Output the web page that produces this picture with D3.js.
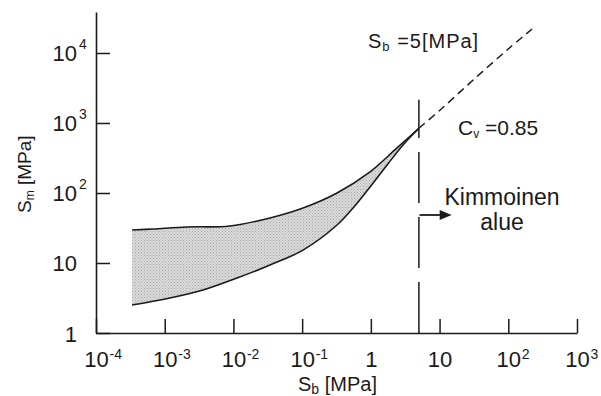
<!DOCTYPE html>
<html>
<head>
<meta charset="utf-8">
<script src="https://cdn.jsdelivr.net/npm/d3@7"></script>
<style>
body{margin:0;background:#fff}
text{font-family:"Liberation Sans",Arial,sans-serif;fill:#1a1a1a}
</style>
</head>
<body>
<svg id="chart"></svg>
<script>
//tick values and labels
var xTicks=[1e-4,1e-3,1e-2,1e-1,1,10,100,1000]
var xTickBase=["10","10","10","10","1","10","10","10"]
var xTickSup=["-4","-3","-2","-1","","","2","3"]
var yTicks=[1,10,100,1000,10000]
var yTickBase=["1","10","10","10","10"]
var yTickSup=["","","2","3","4"]

//upper and lower edge of the shaded band (Sb, Sm)
var upperSb=[3.35e-4,6.76e-4,2.11e-3,8.9e-3,0.0341,0.103,0.322,0.973,2.40,5]
var upperSm=[29.6,30.6,32.7,33.8,44,61,100,200,440,840]
var lowerSb=[3.35e-4,1.19e-3,3.6e-3,0.01127,0.0341,0.103,0.322,0.551,0.973,1.72,2.94,5]
var lowerSm=[2.51,3.16,4.11,6.1,9.36,15.3,34.9,61,122,251,485,840]

//dashed continuation
var extSb=[5,10.2,30.8,96,222]
var extSm=[840,1535,4110,11040,22000]

//limit line Sb=5 and arrow
var limitSb=5
var limitTop=2140
var arrowSb=[5.1,15]
var arrowSm=48.5

var screen={width:601,height:396}
var margins={left:96,right:24,top:12,bottom:63}
var graph={
    width:screen.width-margins.left-margins.right,
    height:screen.height-margins.top-margins.bottom
}

var svg=d3.select("#chart")
    .attr("width",screen.width)
    .attr("height",screen.height)

var xScale=d3.scaleLog()
    .domain([1e-4,1e3])
    .range([margins.left,margins.left+graph.width])
var yScale=d3.scaleLog()
    .domain([1,38500])
    .range([margins.top+graph.height,margins.top])

var zip=function(a,b){
    return a.map(function(d,i){return [d,b[i]]})
}
var upper=zip(upperSb,upperSm)
var lower=zip(lowerSb,lowerSm)
var ext=zip(extSb,extSm)

var lineGenerator=d3.line()
    .x(function(d){return xScale(d[0])})
    .y(function(d){return yScale(d[1])})
    .curve(d3.curveCatmullRom)

//stipple for the band
var pat=svg.append("defs").append("pattern")
    .attr("id","stipple")
    .attr("width",3)
    .attr("height",3)
    .attr("patternUnits","userSpaceOnUse")
pat.append("rect").attr("width",3).attr("height",3).attr("fill","#dadada")
pat.append("rect").attr("width",1).attr("height",1).attr("fill","#a8a8a8")
pat.append("rect").attr("x",1.5).attr("y",1.5).attr("width",1).attr("height",1).attr("fill","#b4b4b4")

//shaded band
var bandPath=lineGenerator(upper)+"L"+lineGenerator(lower.slice().reverse()).slice(1)+"Z"
svg.append("path")
    .attr("d",bandPath)
    .attr("fill","url(#stipple)")
    .attr("stroke","none")

svg.append("path")
    .datum(upper)
    .attr("d",lineGenerator)
    .attr("fill","none")
    .attr("stroke","#1a1a1a")
    .attr("stroke-width",1.6)
svg.append("path")
    .datum(lower)
    .attr("d",lineGenerator)
    .attr("fill","none")
    .attr("stroke","#1a1a1a")
    .attr("stroke-width",1.6)

//dashed extension
svg.append("path")
    .datum(ext)
    .attr("d",lineGenerator)
    .attr("fill","none")
    .attr("stroke","#1a1a1a")
    .attr("stroke-width",1.5)
    .attr("stroke-dasharray","8,5")

//vertical limit line
svg.append("line")
    .attr("x1",xScale(limitSb))
    .attr("x2",xScale(limitSb))
    .attr("y1",yScale(1))
    .attr("y2",yScale(limitTop))
    .attr("stroke","#1a1a1a")
    .attr("stroke-width",1.5)
    .attr("stroke-dasharray","51,14")

//arrow
var ax1=xScale(arrowSb[0]),ax2=xScale(arrowSb[1]),ay=yScale(arrowSm)
svg.append("line")
    .attr("x1",ax1)
    .attr("x2",ax2-8)
    .attr("y1",ay)
    .attr("y2",ay)
    .attr("stroke","#1a1a1a")
    .attr("stroke-width",1.8)
svg.append("path")
    .attr("d","M"+(ax2-12)+","+(ay-5)+"L"+ax2+","+ay+"L"+(ax2-12)+","+(ay+5)+"Z")
    .attr("fill","#1a1a1a")

//axes
var xAxis=d3.axisBottom(xScale)
    .tickValues(xTicks)
    .tickSize(-14)
    .tickSizeOuter(0)
    .tickFormat("")
var yAxis=d3.axisLeft(yScale)
    .tickValues(yTicks)
    .tickSize(-14)
    .tickSizeOuter(0)
    .tickFormat("")

var gx=svg.append("g")
    .attr("transform","translate(0,"+(margins.top+graph.height)+")")
    .call(xAxis)
var gy=svg.append("g")
    .attr("transform","translate("+margins.left+",0)")
    .call(yAxis)

gx.select(".domain").attr("stroke","#1a1a1a").attr("stroke-width",1.6)
gy.select(".domain").attr("stroke","#1a1a1a").attr("stroke-width",1.6)
gx.selectAll(".tick line").attr("stroke","#1a1a1a").attr("stroke-width",1.5)
gy.selectAll(".tick line").attr("stroke","#1a1a1a").attr("stroke-width",1.5)

//tick labels with superscripts
gx.selectAll(".tick").each(function(d,i){
    var g=d3.select(this)
    var hasSup=xTickSup[i]!==""
    g.append("text")
        .text(xTickBase[i])
        .attr("text-anchor","middle")
        .attr("x",0)
        .attr("y",34)
        .style("font-size","22px")
    if(hasSup){
        g.append("text")
            .text(xTickSup[i])
            .attr("text-anchor","start")
            .attr("x",13)
            .attr("y",26)
            .style("font-size","14px")
    }
})
gy.selectAll(".tick").each(function(d,i){
    var g=d3.select(this)
    g.append("text")
        .text(yTickBase[i])
        .attr("text-anchor","end")
        .attr("x",-19)
        .attr("y",8)
        .style("font-size","22px")
    if(yTickSup[i]!==""){
        g.append("text")
            .text(yTickSup[i])
            .attr("text-anchor","start")
            .attr("x",-17)
            .attr("y",-4)
            .style("font-size","14px")
    }
})

//labels
var labels=svg.append("g")
var xl=labels.append("text")
    .attr("x",298)
    .attr("y",391)
    .style("font-size","20px")
xl.append("tspan").text("S")
xl.append("tspan").text("b").attr("dy",3).style("font-size","14px")
xl.append("tspan").text(" [MPa]").attr("dy",-3)

var yl=labels.append("text")
    .attr("transform","translate(31,213) rotate(-90)")
    .style("font-size","19px")
yl.append("tspan").text("S")
yl.append("tspan").text("m").attr("dy",3).style("font-size","12px")
yl.append("tspan").text(" [MPa]").attr("dy",-3)

var sb=labels.append("text")
    .attr("x",368)
    .attr("y",48)
    .style("font-size","20px")
    .style("letter-spacing","1px")
sb.append("tspan").text("S")
sb.append("tspan").text("b").attr("dy",3).style("font-size","13px")
sb.append("tspan").text("  =5[MPa]").attr("dy",-3)

var cv=labels.append("text")
    .attr("x",458)
    .attr("y",135)
    .style("font-size","21px")
cv.append("tspan").text("C")
cv.append("tspan").text("v").attr("dy",3).style("font-size","12px")
cv.append("tspan").text(" =0.85").attr("dy",-3)

labels.append("text")
    .text("Kimmoinen")
    .attr("text-anchor","middle")
    .attr("x",502)
    .attr("y",205)
    .style("font-size","23px")
labels.append("text")
    .text("alue")
    .attr("text-anchor","middle")
    .attr("x",502)
    .attr("y",230)
    .style("font-size","23px")
</script>
</body>
</html>
